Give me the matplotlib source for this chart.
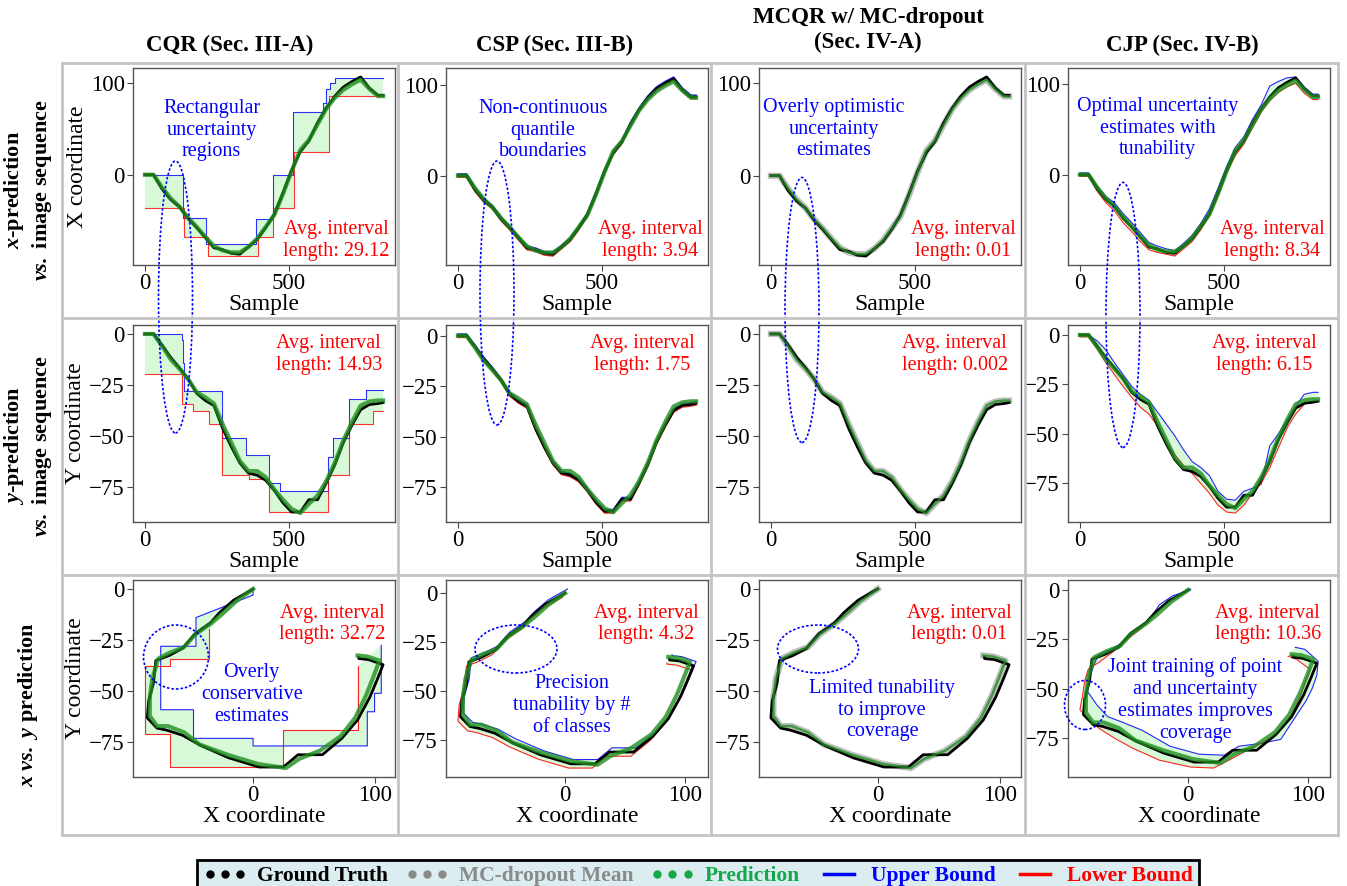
import numpy as np
import matplotlib
matplotlib.use("Agg")
import matplotlib.pyplot as plt
from matplotlib.patches import Ellipse
from matplotlib.lines import Line2D

plt.rcParams["font.family"] = "serif"
plt.rcParams["font.serif"] = ["Liberation Serif", "DejaVu Serif"]
plt.rcParams["mathtext.fontset"] = "custom"
plt.rcParams["mathtext.rm"] = "Liberation Serif"
plt.rcParams["mathtext.it"] = "Liberation Serif:italic"
plt.rcParams["mathtext.bf"] = "Liberation Serif:bold"
plt.rcParams["mathtext.bfit"] = "Liberation Serif:bold:italic"

#%% data

t      = [0, 30, 60, 90, 120, 150, 180, 210, 240, 270, 300, 330, 360, 390, 420,
          450, 480, 510, 540, 570, 600, 630, 660, 690, 720, 750, 780, 810, 828]
gt_x   = [0, 0, -16, -27.5, -35, -48, -58, -69, -80, -82, -86, -87, -79, -71, -58,
          -43, -20, 5, 25, 37, 57, 73, 86, 96, 102, 107, 95, 87, 87]
gt_y   = [0, 0, -5.5, -11.5, -16.5, -22, -29, -32.5, -35, -46, -55, -63, -68, -69, -71.5,
          -76.5, -82.5, -87, -87, -81, -81, -73, -64, -53, -44.5, -37, -34.5, -34, -33.5]
pred_x = [0, 0, -14, -26, -35, -47, -57, -68, -78, -83, -85, -85, -79, -70, -57,
          -44, -21, 4, 27, 38, 55, 72, 84, 93, 99, 104, 94, 86, 86]
pred_y = [0, 0, -6, -12.5, -17, -22, -28.5, -31, -34, -44, -53, -62, -67, -67, -70,
          -76, -81, -85.5, -87.5, -83, -79, -72, -63, -52, -43, -35, -33, -32.5, -32.5]

# CQR: piecewise constant bounds (breakpoints)
cqr_t  = [0, 129, 133, 136, 166, 214, 218, 222, 268, 351, 363, 387, 393, 430, 445,
          447, 470, 516, 520, 618, 628, 636, 641, 645, 653, 660, 709, 769, 792, 828]
cqr_ux = [0, 0, -47, -47, -47, -76, -76, -76, -76, -76, -76, -49, -49, -49, -49,
          0, 0, 69, 69, 78, 94, 94, 94, 100, 100, 105.5, 105.5, 105.5, 105.5, 105.5]
cqr_uy = [0, -3, -14, -28, -28, -28, -28, -28, -51, -59, -59, -59, -59, -73, -73,
          -73, -76.7, -76.7, -76.7, -76.7, -76.7, -60, -60, -60, -51, -51, -32, -27.5, -27.5, -27.5]
cqr_lx = [-36, -36, -36, -68, -68, -68, -89, -89, -89, -89, -89, -89, -68, -68, -36,
          -36, -36, -36, 25, 25, 25, 25, 86, 86, 86, 86, 86, 86, 86, 86]
cqr_ly = [-19.7, -34.4, -34.4, -34.4, -37.5, -37.5, -37.5, -44, -69, -69, -71, -71, -71, -87, -87,
          -87, -87, -87, -87, -87, -87, -69, -69, -69, -69, -69, -44, -44, -37.7, -37.7]

# CJP bounds on the common sample grid
cjp_ux = [2, 2, -13, -24, -31, -43, -53, -64, -75, -79, -82, -84, -76, -67, -54,
          -38, -15, 9, 30, 42, 61, 77, 98, 103, 107, 108, 97, 89, 89]
cjp_lx = [-2, -2, -18, -31, -40, -53, -63, -74, -83, -86, -88, -90, -82, -74, -61,
          -46, -24, 2, 21, 34, 52, 69, 82, 91, 97, 101, 90, 83, 83]
cjp_uy = [0.5, 0, -3, -7.5, -14, -20, -26, -30, -33, -39, -45, -51, -58, -64, -67,
          -71, -79, -83, -83.5, -79, -77.5, -75.5, -56, -50, -43, -36, -30, -29, -29]
cjp_ly = [-1, -1, -7, -14, -20, -26, -31.5, -36.5, -40, -46, -54, -60.5, -66, -70, -75,
          -80, -86, -89.5, -90, -86, -80, -75, -67, -57, -47, -40, -35, -33.5, -33.5]

# average interval lengths printed in each panel: rows x, y, x-vs-y
interval_x  = [29.12, 3.94, 0.01, 8.34]
interval_y  = [14.93, 1.75, 0.002, 6.15]
interval_xy = [32.72, 4.32, 0.01, 10.36]
interval_txt = [["29.12", "3.94", "0.01", "8.34"],
                ["14.93", "1.75", "0.002", "6.15"],
                ["32.72", "4.32", "0.01", "10.36"]]

col_titles = ["CQR (Sec. III-A)", "CSP (Sec. III-B)",
              "MCQR w/ MC-dropout\n(Sec. IV-A)", "CJP (Sec. IV-B)"]
row_titles = ["$\\mathbfit{x}$-prediction\n$\\mathbfit{vs.}$ image sequence",
              "$\\mathbfit{y}$-prediction\n$\\mathbfit{vs.}$ image sequence",
              "$\\mathbfit{x}$ $\\mathbfit{vs.}$ $\\mathbfit{y}$ prediction"]
notes_top = ["Rectangular\nuncertainty\nregions", "Non-continuous\nquantile\nboundaries",
             "Overly optimistic\nuncertainty\nestimates", "Optimal uncertainty\nestimates with\ntunability"]
notes_bot = ["Overly\nconservative\nestimates", "Precision\ntunability by #\nof classes",
             "Limited tunability\nto improve\ncoverage",
             "Joint training of point\nand uncertainty\nestimates improves\ncoverage"]

#%% style

FILL   = "#90ee90"
GREEN  = "#1f8f1f"
GRAY   = "#808080"
W, H   = 1347, 886

t = np.array(t)
gt_x, gt_y, pred_x, pred_y = map(np.array, (gt_x, gt_y, pred_x, pred_y))
cqr_t, cqr_ux, cqr_uy, cqr_lx, cqr_ly = map(np.array, (cqr_t, cqr_ux, cqr_uy, cqr_lx, cqr_ly))
cjp_ux, cjp_lx, cjp_uy, cjp_ly = map(np.array, (cjp_ux, cjp_lx, cjp_uy, cjp_ly))

fig = plt.figure(figsize=(W / 100, H / 100), dpi=100)

col_left = [133, 446, 759, 1068]
row_top  = [68, 325, 580]
AW, AH   = 262, 197

# light grey cell grid
for yy in [63, 318, 575, 835]:
    fig.add_artist(Line2D([62 / W, 1338 / W], [1 - yy / H] * 2, color="#c4c4c4", lw=2))
for xx in [62, 398, 711, 1025, 1338]:
    fig.add_artist(Line2D([xx / W] * 2, [1 - 63 / H, 1 - 835 / H], color="#c4c4c4", lw=2))


def style(ax):
    for s in ax.spines.values():
        s.set_color("#555555")
        s.set_linewidth(1)
    ax.tick_params(labelsize=16.5, length=4, width=0.8, color="#444444", pad=2)


def bounds(col, coord):
    # upper / lower bound series for one method and one coordinate
    if col == 3:
        return (cjp_ux, cjp_lx) if coord == "x" else (cjp_uy, cjp_ly)
    g = gt_x if coord == "x" else gt_y
    iv = interval_x[col] if coord == "x" else interval_y[col]
    return g + iv / 2, g - iv / 2


axes = [[None] * 4 for _ in range(3)]
for r in range(3):
    for c in range(4):
        ax = fig.add_axes([col_left[c] / W, 1 - (row_top[r] + AH) / H, AW / W, AH / H])
        axes[r][c] = ax
        style(ax)

# rows 1-2: coordinate vs sample
for r, coord in enumerate(["x", "y"]):
    g = gt_x if coord == "x" else gt_y
    p = pred_x if coord == "x" else pred_y
    for c in range(4):
        ax = axes[r][c]
        if c == 0:
            up = cqr_ux if coord == "x" else cqr_uy
            lo = cqr_lx if coord == "x" else cqr_ly
            ax.fill_between(cqr_t, lo, up, step="post", color=FILL, alpha=0.35, lw=0)
            ax.step(cqr_t, up, where="post", color="blue", lw=0.8, alpha=0.8)
            ax.step(cqr_t, lo, where="post", color="red", lw=0.8, alpha=0.8)
        else:
            up, lo = bounds(c, coord)
            ax.fill_between(t, lo, up, color=FILL, alpha=0.35, lw=0)
            if c == 2:
                ax.plot(t, p, color=GRAY, lw=4.5, alpha=0.5)
            ax.plot(t, up, color="blue", lw=1.0 if c == 1 else 0.8, alpha=0.85)
            ax.plot(t, lo, color="red", lw=1.0 if c == 1 else 0.8, alpha=0.85)
        ax.plot(t, g, color="black", lw=2)
        ax.plot(t, p, color=GREEN, lw=3 if c != 2 else 1.8, alpha=0.8)
        ax.set_xticks([0, 500])
        ax.set_yticks([0, 100] if coord == "x" else [0, -25, -50, -75])
        ax.set_xlabel("Sample", fontsize=17, labelpad=0)
        if c == 0:
            ax.set_ylabel("X coordinate" if coord == "x" else "Y coordinate", fontsize=17, labelpad=2)

# row 3: x vs y
for c in range(4):
    ax = axes[2][c]
    if c == 0:
        ux, lx, uy, ly = cqr_ux, cqr_lx, cqr_uy, cqr_ly
    elif c == 3:
        ux, lx, uy, ly = cjp_ux, cjp_lx, cjp_uy, cjp_ly
    else:
        ux, lx = gt_x + interval_xy[c] / 2, gt_x - interval_xy[c] / 2
        uy, ly = gt_y + interval_xy[c] / 2, gt_y - interval_xy[c] / 2
    ax.fill(np.r_[ux, lx[::-1]], np.r_[uy, ly[::-1]], color=FILL, alpha=0.35, lw=0)
    if c == 2:
        ax.plot(pred_x, pred_y, color=GRAY, lw=4.5, alpha=0.5)
    ax.plot(ux, uy, color="blue", lw=0.8, alpha=0.85)
    ax.plot(lx, ly, color="red", lw=0.8, alpha=0.85)
    ax.plot(gt_x, gt_y, color="black", lw=2)
    ax.plot(pred_x, pred_y, color=GREEN, lw=3 if c != 2 else 1.8, alpha=0.8)
    ax.set_xticks([0, 100])
    ax.set_yticks([0, -25, -50, -75])
    ax.set_xlabel("X coordinate", fontsize=17, labelpad=0)
    if c == 0:
        ax.set_ylabel("Y coordinate", fontsize=17, labelpad=2)

# panel annotations
top_pos = [(0.30, 0.685), (0.37, 0.685), (0.284, 0.69), (0.342, 0.695)]
bot_pos = [(0.453, 0.42), (0.48, 0.362), (0.47, 0.34), (0.485, 0.39)]
for c in range(4):
    axes[0][c].text(*top_pos[c], notes_top[c], transform=axes[0][c].transAxes, color="blue",
                    fontsize=14.5, ha="center", va="center", multialignment="center")
    axes[2][c].text(*bot_pos[c], notes_bot[c], transform=axes[2][c].transAxes, color="blue",
                    fontsize=14.5, ha="center", va="center", multialignment="center")
for r, (xr, yr) in enumerate([(0.98, 0.124), (0.95, 0.85), (0.965, 0.777)]):
    for c in range(4):
        axes[r][c].text(xr, yr, "Avg. interval\nlength: " + interval_txt[r][c],
                        transform=axes[r][c].transAxes, color="red", fontsize=14.5,
                        ha="right", va="center", multialignment="center")

# dotted ellipses (figure pixels: cx, cy, w, h)
for cx, cy, ew, eh in [(175.5, 297, 34, 272), (497, 293, 34, 264), (802, 310, 34, 265),
                       (1123, 315, 34, 265), (176, 657, 65, 64), (516, 649, 82, 48),
                       (818, 649, 81, 48), (1085, 705, 41, 49)]:
    fig.add_artist(Ellipse((cx / W, 1 - cy / H), ew / W, eh / H, transform=fig.transFigure,
                           fill=False, edgecolor="blue", ls=(0, (1.5, 1.2)), lw=1.2))

# column and row titles
for c, (xc, yc) in enumerate([(230, 45), (555, 45), (868, 30), (1182, 45)]):
    fig.text(xc / W, 1 - yc / H, col_titles[c], fontsize=16.5, fontweight="bold",
             ha="center", va="center", multialignment="center")
for r, yc in enumerate([190, 446, 705]):
    fig.text(28 / W, 1 - yc / H, row_titles[r], fontsize=16, fontweight="bold", rotation=90,
             ha="center", va="center", multialignment="center")

# legend
handles = [Line2D([], [], color="black", marker="o", ls="None", ms=5, label="Ground Truth"),
           Line2D([], [], color="#8a8a8a", marker="o", ls="None", ms=5, label="MC-dropout Mean"),
           Line2D([], [], color="#14a84a", marker="o", ls="None", ms=5, label="Prediction"),
           Line2D([], [], color="blue", lw=2.5, label="Upper Bound"),
           Line2D([], [], color="red", lw=2.5, label="Lower Bound")]
leg = fig.legend(handles=handles, loc="upper center", bbox_to_anchor=(698 / W, 1 - 849 / H),
                 ncol=5, numpoints=3, fancybox=False, edgecolor="black", facecolor="#dcedf1",
                 framealpha=1, prop=dict(weight="bold", size=15.5),
                 labelcolor=["black", "#8a8a8a", "#14a84a", "blue", "red"],
                 handlelength=2.0, handletextpad=0.5, columnspacing=0.8, borderpad=0.3)
leg.get_frame().set_linewidth(2)

fig.savefig("out.png", dpi=100)
